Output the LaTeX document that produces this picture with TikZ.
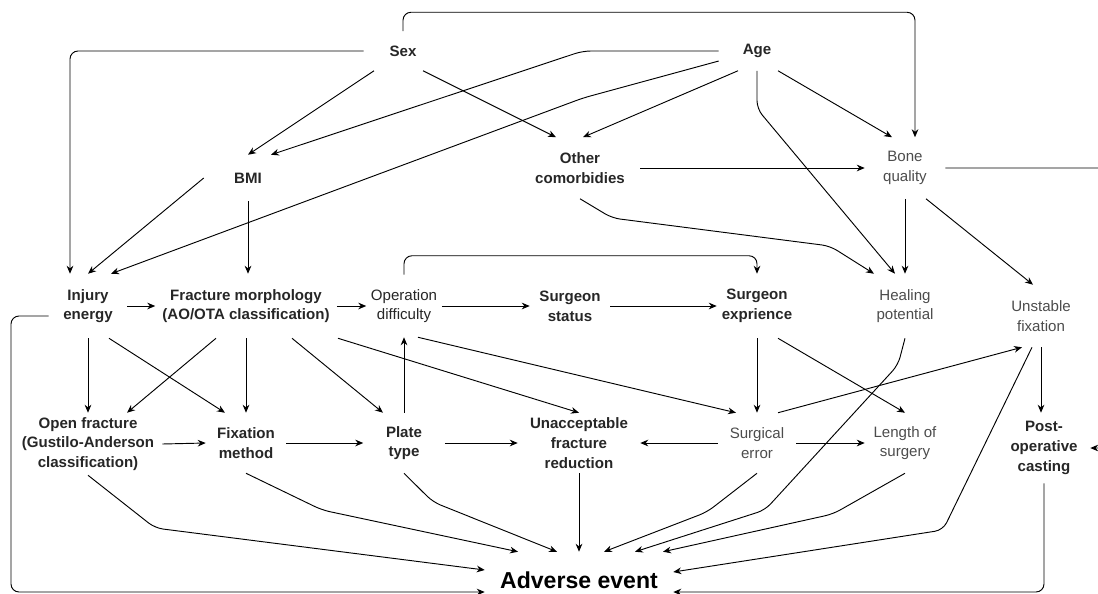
\documentclass[tikz,border=0pt]{standalone}
\usepackage{fontspec}
\setmainfont{Liberation Sans}
\usetikzlibrary{arrows.meta,calc}

\begin{document}
\begin{tikzpicture}[
		x=0.75pt, y=-0.75pt,
		factor/.style={font=\fontsize{11.3}{14.8}\selectfont\bfseries, text=black!85, align=center, inner sep=0pt},
		soft/.style={font=\fontsize{11.3}{14.8}\selectfont, text=black!70, align=center, inner sep=0pt},
		outcome/.style={font=\fontsize{17.3}{19}\selectfont\bfseries, text=black, inner sep=0pt},
		sz/.style 2 args={minimum width={#1*0.75pt}, minimum height={#2*0.75pt}},
		link/.style={-{Stealth[length=6pt,width=5pt]}, line width=0.7pt, rounded corners=6pt},
		]
		\useasboundingbox (0,0) rectangle (1098,593);

		%Main Nodes
		\node[factor, sz={78}{39}]	(sex)	at (403,51)		{Sex};
		\node[factor, sz={76}{39}]	(age)	at (757,51)		{Age};
		\node[factor, sz={88}{46}]	(bmi)	at (248,178)	{BMI};
		\node[factor, sz={120}{61}]	(other)	at (580,168)	{Other\\comorbidies};
		\node[soft, sz={80}{61}]	(bone)	at (905,168)	{Bone\\quality};

		%Middle Row
		\node[factor, sz={78}{64}]	(inj)	at (88,306)		{Injury\\energy};
		\node[factor, sz={181}{64}]	(frac)	at (246,306)	{Fracture morphology\\(AO/OTA classification)};
		\node[soft, text=black!85, sz={75}{62}]	(op)	at (404,306)	{Operation\\difficulty};
		\node[factor, sz={80}{64}]	(stat)	at (570,306)	{Surgeon\\status};
		\node[factor, sz={80}{64}]	(sexp)	at (757,306)	{Surgeon\\exprience};
		\node[soft, sz={80}{64}]	(heal)	at (905,306)	{Healing\\potential};
		\node[soft, sz={82}{62}]	(unst)	at (1041,316)	{Unstable\\fixation};

		%Lower Row
		\node[factor, sz={148}{62}]	(open)	at (88,444)		{Open fracture\\(Gustilo-Anderson\\classification)};
		\node[factor, sz={80}{60}]	(fix)	at (246,443)	{Fixation\\method};
		\node[factor, sz={81}{60}]	(plate)	at (404,443)	{Plate\\type};
		\node[factor, sz={122}{60}]	(unacc)	at (579,443)	{Unacceptable\\fracture\\reduction};
		\node[soft, sz={78}{60}]	(serr)	at (757,443)	{Surgical\\error};
		\node[soft, sz={80}{60}]	(len)	at (905,443)	{Length of\\surgery};
		\node[factor, sz={92}{70}]	(cast)	at (1044,448)	{Post-\\operative\\casting};

		%Outcome
		\node[outcome, sz={188}{56}]	(adv)	at (579,580)	{Adverse event};
		\coordinate (edge) at (1120,0);

		%Sex and Age
		\draw[link] (sex.west) -| ($(inj.north)+(-18,0)$);
		\draw[link] (sex.north) -- ++(0,-19) -| ($(bone.north)+(10,0)$);
		\draw[link] ($(sex.south)+(-29,0)$) -- (bmi.north);
		\draw[link] ($(sex.south)+(20,0)$) -- ($(other.north)+(-24,0)$);
		\draw[link] (age.west) -- ++(-136,0) -- ($(bmi.north)+(23,0)$);
		\draw[link] ($(age.west)+(0,10)$) -- (583,98) -- ($(inj.north)+(23,0)$);
		\draw[link] ($(age.south)+(-19,0)$) -- ($(other.north)+(3,0)$);
		\draw[link] (age.south) -- ++(0,38) -- ($(heal.north)+(-10,0)$);
		\draw[link] ($(age.south)+(21,0)$) -- ($(bone.north)+(-13,0)$);

		%BMI, Comorbidities, Bone quality
		\draw[link] (bmi.west) -- (inj.north);
		\draw[link] (bmi.south) -- (bmi.south |- frac.north);
		\draw[link] (other.east) -- (bone.west);
		\draw[link] (other.south) -- (612,218) -- (830,246) -- ($(heal.north)+(-31,0)$);
		\draw[link] (bone.south) -- (heal.north);
		\draw[link] ($(bone.south)+(21,0)$) -- ($(unst.north)+(-8,0)$);
		\draw[link] (bone.east) -| (edge |- cast.east) -- (cast.east);

		%Middle Row
		\draw[link] (inj.east) -- (frac.west);
		\draw[link] (frac.east) -- (op.west);
		\draw[link] (op.east) -- (stat.west);
		\draw[link] (stat.east) -- (sexp.west);
		\draw[link] (op.north) -- ++(0,-19) -| (sexp.north);
		\draw[link] ($(inj.west)+(0,10)$) -| (11,450) |- ($(adv.west)+(0,12)$);
		\draw[link] (inj.south) -- (open.north);
		\draw[link] ($(inj.south)+(21,0)$) -- ($(fix.north)+(-21,0)$);
		\draw[link] ($(frac.south)+(-30,0)$) -- ($(open.north)+(39,0)$);
		\draw[link] (frac.south) -- (fix.north);
		\draw[link] ($(frac.south)+(46,0)$) -- ($(plate.north)+(-21,0)$);
		\draw[link] ($(frac.south)+(92,0)$) -- (unacc.north);
		\draw[link] ($(op.south)+(14,0)$) -- ($(serr.north)+(-21,0)$);
		\draw[link] (sexp.south) -- (serr.north);
		\draw[link] ($(sexp.south)+(21,0)$) -- (len.north);
		\draw[link] (unst.south) -- (unst.south |- cast.north);

		%Lower Row
		\draw[link] (open.east) -- (fix.west);
		\draw[link] (fix.east) -- (plate.west);
		\draw[link] (plate.east) -- (unacc.west);
		\draw[link] (plate.north) -- (op.south);
		\draw[link] (serr.west) -- (unacc.east);
		\draw[link] (serr.east) -- (len.west);
		\draw[link] ($(serr.north)+(21,0)$) -- ($(unst.south)+(-19,0)$);

		%Adverse event
		\draw[link] (open.south) -- (155,528) -- ($(adv.west)+(0,-10)$);
		\draw[link] (fix.south) -- (322,510) -- ($(adv.north)+(-61,0)$);
		\draw[link] (plate.south) -- (433,502) -- ($(adv.north)+(-22,0)$);
		\draw[link] (unacc.south) -- (adv.north);
		\draw[link] (serr.south) -- (707,512) -- ($(adv.north)+(25,0)$);
		\draw[link] (heal.south) -- (898,365) -- (765,510) -- ($(adv.north)+(56,0)$);
		\draw[link] (len.south) -- (833,514) -- ($(adv.north)+(84,0)$);
		\draw[link] ($(unst.south)+(-9,0)$) -- (943,530) -- ($(adv.east)+(0,-8)$);
		\draw[link] (cast.south) |- ($(adv.east)+(0,12)$);

	\end{tikzpicture}
\end{document}
